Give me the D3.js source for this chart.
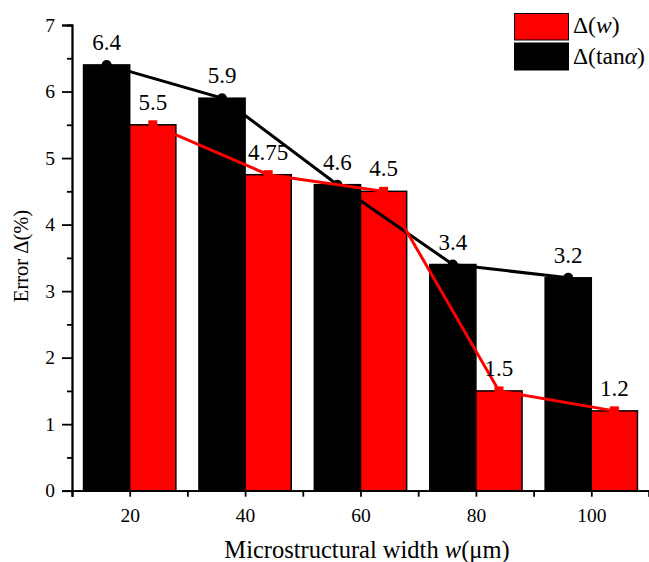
<!DOCTYPE html>
<html>
<head>
<meta charset="utf-8">
<script src="https://cdn.jsdelivr.net/npm/d3@7"></script>
<style>
  body { margin: 0; background: #fff; }
</style>
</head>
<body>
<div id="chart"></div>
<script>
// data
var widths = [20, 40, 60, 80, 100];
var tanErr = [6.4, 5.9, 4.6, 3.4, 3.2];
var wErr = [5.5, 4.75, 4.5, 1.5, 1.2];
var tanLabels = ["6.4", "5.9", "4.6", "3.4", "3.2"];
var wLabels = ["5.5", "4.75", "4.5", "1.5", "1.2"];
var xMajor = [20, 40, 60, 80, 100];
var xMinor = [10, 30, 50, 70, 90, 110];
var yMajor = [0, 1, 2, 3, 4, 5, 6, 7];
var yMinor = [0.5, 1.5, 2.5, 3.5, 4.5, 5.5, 6.5];

var FONT = "'Liberation Serif', 'DejaVu Serif', 'Times New Roman', serif";
var svgWidth = 649;
var svgHeight = 562;
var barW = 8; // in x units

var svg = d3.select("#chart").append("svg")
  .attr("width", svgWidth)
  .attr("height", svgHeight)
  .style("font-family", FONT);

var x = d3.scaleLinear().domain([10, 110]).range([72, 649]);
var y = d3.scaleLinear().domain([0, 7]).range([490.7, 25]);

// bars: black to the left of each width, red to the right
svg.append("g").selectAll("rect")
  .data(widths)
  .enter().append("rect")
  .attr("x", (d) => x(d - barW))
  .attr("y", (d, i) => y(tanErr[i]))
  .attr("width", (d) => x(d) - x(d - barW))
  .attr("height", (d, i) => y(0) - y(tanErr[i]))
  .attr("fill", "#000")
  .attr("stroke", "#000")
  .attr("stroke-width", 1.5);

svg.append("g").selectAll("rect")
  .data(widths)
  .enter().append("rect")
  .attr("x", (d) => x(d))
  .attr("y", (d, i) => y(wErr[i]))
  .attr("width", (d) => x(d + barW) - x(d))
  .attr("height", (d, i) => y(0) - y(wErr[i]))
  .attr("fill", "#ff0000")
  .attr("stroke", "#000")
  .attr("stroke-width", 1.5);

// axes
var yAxis = d3.axisLeft(y).tickValues(yMajor).tickSize(10).tickPadding(7).tickFormat(d3.format("d"));
var yAxisMinor = d3.axisLeft(y).tickValues(yMinor).tickSize(5).tickFormat("");
var xAxis = d3.axisBottom(x).tickValues(xMajor).tickSize(6).tickPadding(11).tickFormat(d3.format("d"));
var xAxisMinor = d3.axisBottom(x).tickValues(xMinor).tickSize(6).tickFormat("");

var gy = svg.append("g").attr("transform", "translate(72,0)").call(yAxis);
svg.append("g").attr("transform", "translate(72,0)").call(yAxisMinor);
var gx = svg.append("g").attr("transform", "translate(0,490.7)").call(xAxis);
svg.append("g").attr("transform", "translate(0,490.7)").call(xAxisMinor);

svg.selectAll(".domain, .tick line").attr("stroke", "#000").attr("stroke-width", 1.8);
svg.selectAll("g").attr("font-family", FONT);
gy.selectAll("text").attr("font-size", 19.5).attr("font-family", FONT);
gx.selectAll("text").attr("font-size", 19.5).attr("font-family", FONT);

// lines
var tanLine = d3.line().x((d) => x(d - barW / 2)).y((d, i) => y(tanErr[i]));
var wLine = d3.line().x((d) => x(d + barW / 2)).y((d, i) => y(wErr[i]));

svg.append("path")
  .datum(widths)
  .attr("d", tanLine)
  .attr("fill", "none")
  .attr("stroke", "#000")
  .attr("stroke-width", 3);

svg.append("g").selectAll("circle")
  .data(widths)
  .enter().append("circle")
  .attr("cx", (d) => x(d - barW / 2))
  .attr("cy", (d, i) => y(tanErr[i]))
  .attr("r", 5)
  .attr("fill", "#000");

svg.append("path")
  .datum(widths)
  .attr("d", wLine)
  .attr("fill", "none")
  .attr("stroke", "#ff0000")
  .attr("stroke-width", 3);

svg.append("g").selectAll("rect")
  .data(widths)
  .enter().append("rect")
  .attr("x", (d) => x(d + barW / 2) - 4.5)
  .attr("y", (d, i) => y(wErr[i]) - 4.5)
  .attr("width", 9)
  .attr("height", 9)
  .attr("fill", "#ff0000");

// value labels
svg.append("g").selectAll("text")
  .data(widths)
  .enter().append("text")
  .attr("x", (d) => x(d - barW / 2))
  .attr("y", (d, i) => y(tanErr[i]) - 15)
  .attr("text-anchor", "middle")
  .attr("font-size", 23)
  .attr("font-family", FONT)
  .text((d, i) => tanLabels[i]);

svg.append("g").selectAll("text")
  .data(widths)
  .enter().append("text")
  .attr("x", (d) => x(d + barW / 2))
  .attr("y", (d, i) => y(wErr[i]) - 15)
  .attr("text-anchor", "middle")
  .attr("font-size", 23)
  .attr("font-family", FONT)
  .text((d, i) => wLabels[i]);

// axis titles
var xt = svg.append("text")
  .attr("x", 367)
  .attr("y", 558)
  .attr("text-anchor", "middle")
  .attr("font-size", 24.5)
  .attr("font-family", FONT);
xt.append("tspan").text("Microstructural width ");
xt.append("tspan").attr("font-style", "italic").text("w");
xt.append("tspan").text("(μm)");

svg.append("text")
  .attr("transform", "translate(28,256) rotate(-90)")
  .attr("text-anchor", "middle")
  .attr("font-size", 20.5)
  .attr("font-family", FONT)
  .text("Error Δ(%)");

// legend
var legend = svg.append("g");
legend.append("rect")
  .attr("x", 514.5).attr("y", 13.5).attr("width", 54).attr("height", 26.5)
  .attr("fill", "#ff0000").attr("stroke", "#000").attr("stroke-width", 1);
legend.append("rect")
  .attr("x", 514.5).attr("y", 43).attr("width", 54).attr("height", 27)
  .attr("fill", "#000").attr("stroke", "#000").attr("stroke-width", 1);

var l1 = legend.append("text").attr("x", 573).attr("y", 33).attr("font-size", 23.5).attr("font-family", FONT);
l1.append("tspan").text("Δ(");
l1.append("tspan").attr("font-style", "italic").text("w");
l1.append("tspan").text(")");

var l2 = legend.append("text").attr("x", 573).attr("y", 64).attr("font-size", 23.5).attr("font-family", FONT);
l2.append("tspan").text("Δ(tan");
l2.append("tspan").attr("font-style", "italic").text("α");
l2.append("tspan").text(")");
</script>
</body>
</html>
